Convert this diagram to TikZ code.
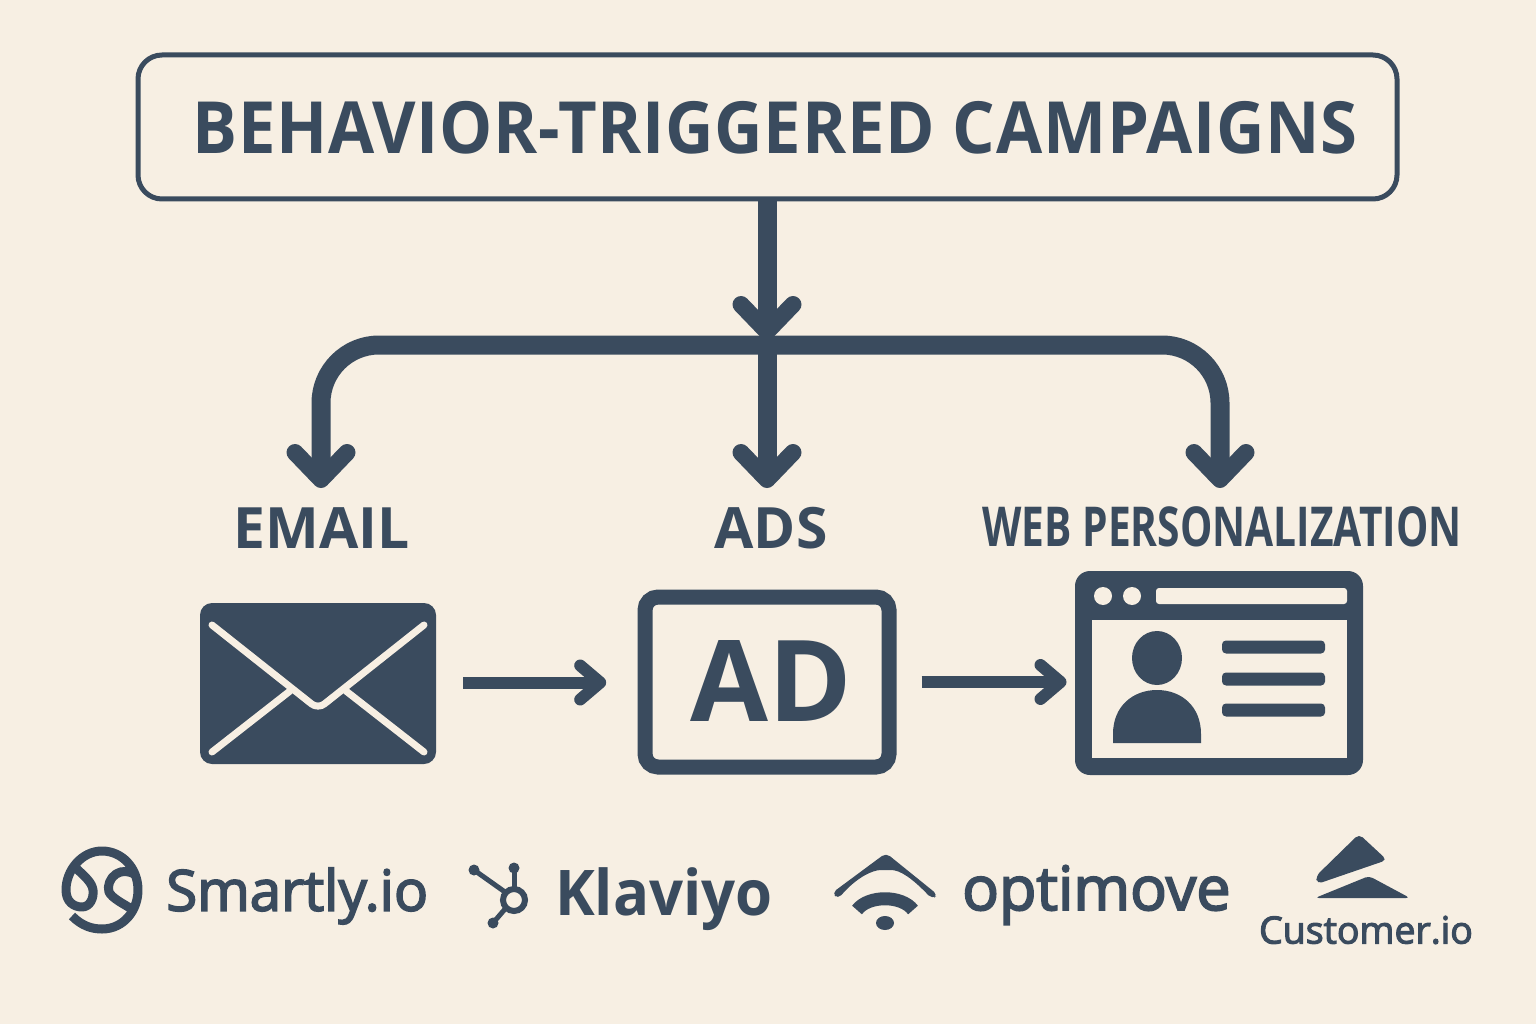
\documentclass[tikz,border=0pt]{standalone}
\usepackage{fontspec}
\setmainfont{Open Sans}
\newfontfamily\headfont[LetterSpace=1,FakeStretch=0.93]{Open Sans}
\newfontfamily\narrowfont[FakeStretch=0.74]{Open Sans}
\newfontfamily\logofont[FakeBold=3]{Open Sans}
\newfontfamily\klaviyofont[FakeStretch=0.95]{Open Sans}
\usetikzlibrary{arrows.meta}
\definecolor{slate}{HTML}{3A4B5E}
\definecolor{paper}{HTML}{F7EFE3}
\begin{document}
\begin{tikzpicture}[
    x=1pt,y=-1pt,
    every node/.style={inner sep=0pt,text=slate},
    titlebox/.style={draw=slate,line width=5pt,rounded corners=24pt,minimum width=1259pt,minimum height=144pt},
    heading/.style={font=\fontsize{57}{62}\selectfont\bfseries},
    bigarrow/.style={draw=slate,line width=19pt,-{Straight Barb[round,length=27pt,width=52pt,line width=17pt]}},
    thinarrow/.style={draw=slate,line width=12pt,-{Straight Barb[round,length=20pt,width=34pt,line width=12pt]}},
    pane/.style={fill=paper,draw=none},
    logotext/.style={anchor=west,font=\logofont\fontsize{56.5}{60}\selectfont},
    logoline/.style={draw=slate,line width=9pt,line join=round}
]
\useasboundingbox[fill=paper] (0,0) rectangle (1536,1024);

% top box and the three channel labels
\node[titlebox] (campaigns) at (767.5,127) {};
\node[font=\headfont\fontsize{72}{78}\selectfont\bfseries] (campaignstext) at (775,128) {BEHAVIOR-TRIGGERED CAMPAIGNS};
\node[heading] (email) at (322,528) {EMAIL};
\node[heading] (ads) at (771,528) {ADS};
\node[font=\narrowfont\fontsize{55}{60}\selectfont\bfseries] (web) at (1222,527) {WEB PERSONALIZATION};

% tree of arrows
\coordinate (join) at (767,340);
\coordinate (bus) at (767,345);
\coordinate (emailin) at (321,488);
\coordinate (adsin) at (767,488);
\coordinate (webin) at (1220,488);
\draw[bigarrow] (campaigns.south -| join) -- (join);
\draw[bigarrow,rounded corners=58pt] (bus) -| (emailin);
\draw[bigarrow,rounded corners=58pt] (bus) -| (webin);
\draw[bigarrow] (bus) -- (adsin);

% envelope
\node[fill=slate,rounded corners=12pt,minimum width=236pt,minimum height=161pt] (envelope) at (318,683.5) {};
\draw[draw=paper,line width=7pt,line cap=round,line join=round,rounded corners=8pt] (212,625) -- (318,709) -- (424,625);
\draw[draw=paper,line width=7pt,line cap=round] (212,752) -- (290,691);
\draw[draw=paper,line width=7pt,line cap=round] (424,752) -- (346,691);

% ad frame
\node[draw=slate,line width=15pt,rounded corners=13pt,minimum width=244pt,minimum height=170pt] (adframe) at (767,682) {};
\node[font=\fontsize{113}{118}\selectfont\bfseries] (adtext) at (771,681) {AD};

% browser window
\node[fill=slate,rounded corners=15pt,minimum width=288pt,minimum height=204pt] (browser) at (1219,673) {};
\fill[pane] (1092,620) rectangle (1347,758);
\fill[pane] (1103,596) circle (9);
\fill[pane] (1132,596) circle (9);
\fill[pane,rounded corners=3pt] (1156,588) rectangle (1347,604);
\fill[slate] (1157,658) ellipse [x radius=25,y radius=27];
\fill[slate] (1113,743) -- (1113,734) .. controls (1113,706) and (1133,690) .. (1157,690) .. controls (1181,690) and (1201,706) .. (1201,734) -- (1201,743) -- cycle;
\foreach \liney in {647,679,710}
    \fill[slate,rounded corners=4pt] (1222,\liney-6.5) rectangle (1325,\liney+6.5);

% flow between the icons
\draw[thinarrow] (envelope.east) ++(27,-1) -- ++(143,0);
\draw[thinarrow] (adframe.east) ++(25,0) -- ++(145,0);

% smartly
\draw[logoline] (72,916) .. controls (82,926) and (92,929) .. (102,929) .. controls (124,929) and (138,910) .. (138,890) .. controls (138,868) and (122,851) .. (102,851) .. controls (82,851) and (66,870) .. (66,890) .. controls (66,902) and (74,907) .. (82,907) .. controls (90,907) and (94,898) .. (93,890) .. controls (92,882) and (84,876) .. (76,868);
\draw[logoline] (136,875) .. controls (130,871) and (122,870) .. (116,874) .. controls (110,878) and (107,886) .. (109,892) .. controls (112,898) and (122,903) .. (130,908);
\node[logotext] (smartly) at (166,896) {Smartly.io};

% klaviyo
\draw[slate,line width=6pt] (514,900) circle (11);
\draw[slate,line width=5pt] (514,889) -- (514,868);
\draw[slate,line width=5pt] (505,892) -- (474,870);
\draw[slate,line width=5pt] (505,909) -- (493,923);
\fill[slate] (514,868) circle (5.5);
\fill[slate] (474,870) circle (5.5);
\fill[slate] (493,923) circle (5.5);
\node[logotext,font=\klaviyofont\fontsize{63}{68}\selectfont\bfseries] (klaviyo) at (555,899) {Klaviyo};

% optimove
\fill[slate,rounded corners=5pt] (886,853) -- (938,895) -- (932,899) .. controls (912,878) and (900,870) .. (886,870) .. controls (872,870) and (856,878) .. (838,899) -- (832,893) -- cycle;
\draw[slate,line width=13pt] (857,910) .. controls (868,895) and (902,895) .. (913,910);
\fill[slate] (885,923) ellipse [x radius=9,y radius=7];
\node[logotext,font=\logofont\fontsize{61}{66}\selectfont] (optimove) at (962,895) {optimove};

% customer.io
\fill[slate,rounded corners=5pt] (1359,834) -- (1387,860) -- (1317,884) -- (1316,876) -- cycle;
\fill[slate,rounded corners=4pt] (1315,898) -- (1369,876) -- (1410,898) -- cycle;
\node[font=\logofont\fontsize{37.5}{42}\selectfont] (customer) at (1366,930) {Customer.io};
\end{tikzpicture}
\end{document}
